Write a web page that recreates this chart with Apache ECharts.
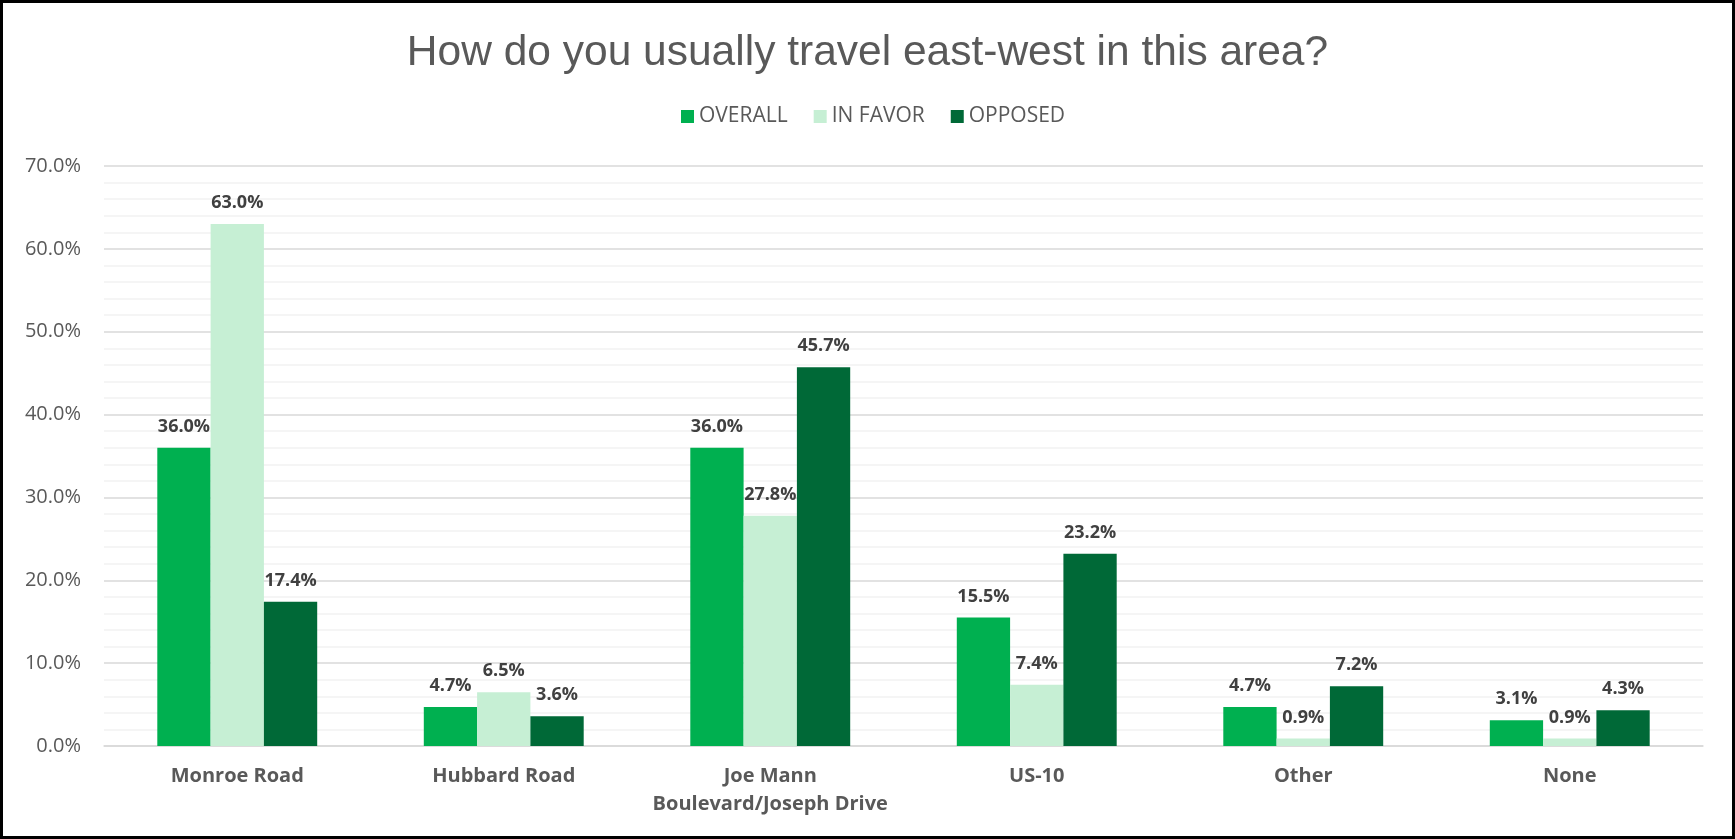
<!DOCTYPE html>
<html>
<head>
<meta charset="utf-8">
<title>How do you usually travel east-west in this area?</title>
<script src="https://cdn.jsdelivr.net/npm/echarts@6/dist/echarts.min.js"></script>
<style>
  html, body { margin: 0; padding: 0; background: #fff; }
  #wrap { position: relative; width: 1735px; height: 839px; }
  #chart { width: 1735px; height: 839px; }
  #frame {
    position: absolute; left: 0; top: 0; width: 1735px; height: 839px;
    box-sizing: border-box; border: 3px solid #000; pointer-events: none;
  }
</style>
</head>
<body>
<div id="wrap">
  <div id="chart"></div>
  <div id="frame"></div>
</div>
<script>
// categories (x axis)
const categories = ['Monroe Road', 'Hubbard Road', 'Joe Mann\nBoulevard/Joseph Drive', 'US-10', 'Other', 'None']

// series values, in percent
const overall = [36.0, 4.7, 36.0, 15.5, 4.7, 3.1]
const inFavor = [63.0, 6.5, 27.8, 7.4, 0.9, 0.9]
const opposed = [17.4, 3.6, 45.7, 23.2, 7.2, 4.3]

const seriesNames = ['OVERALL', 'IN FAVOR', 'OPPOSED']
const colors = ['#00B050', '#C6EFD4', '#006937']

const pct = (v) => v.toFixed(1) + '%'

function makeSeries(name, data, color) {
  return {
    name: name,
    type: 'bar',
    data: data,
    barGap: 0,
    barCategoryGap: '40%',
    itemStyle: { color: color },
    label: {
      show: true,
      position: 'top',
      distance: 12,
      formatter: (p) => pct(p.value),
      fontFamily: 'Open Sans',
      fontWeight: 'bold',
      fontSize: 18,
      color: '#404040',
    },
  }
}

var chart = echarts.init(document.getElementById('chart'))
// 绘制图表
chart.setOption({
  animation: false,
  color: colors,
  title: {
    text: 'How do you usually travel east-west in this area?',
    left: 'center',
    top: 27,
    textStyle: {
      fontFamily: 'Liberation Sans',
      fontWeight: 'normal',
      fontSize: 42.5,
      color: '#595959',
    },
  },
  legend: {
    data: seriesNames,
    left: 676,
    top: 101,
    itemWidth: 13,
    itemHeight: 13,
    itemGap: 26,
    icon: 'rect',
    textStyle: {
      fontFamily: 'Open Sans',
      fontSize: 21,
      color: '#595959',
    },
  },
  grid: {
    left: 104,
    right: 32,
    top: 166,
    bottom: 93,
  },
  xAxis: {
    type: 'category',
    data: categories,
    axisTick: { show: false },
    axisLine: { lineStyle: { color: '#D9D9D9', width: 1.5 } },
    axisLabel: {
      margin: 16,
      interval: 0,
      fontFamily: 'Open Sans',
      fontWeight: 'bold',
      fontSize: 20,
      lineHeight: 28,
      color: '#595959',
    },
  },
  yAxis: {
    type: 'value',
    min: 0,
    max: 70,
    interval: 10,
    axisLine: { show: false },
    axisTick: { show: false },
    axisLabel: {
      margin: 23,
      formatter: (v) => pct(v),
      fontFamily: 'Open Sans',
      fontSize: 20,
      color: '#595959',
    },
    splitLine: { lineStyle: { color: '#D9D9D9', width: 1.5 } },
    minorTick: { show: false, splitNumber: 5 },
    minorSplitLine: { show: true, lineStyle: { color: '#F2F2F2', width: 1.5 } },
  },
  series: [
    makeSeries(seriesNames[0], overall, colors[0]),
    makeSeries(seriesNames[1], inFavor, colors[1]),
    makeSeries(seriesNames[2], opposed, colors[2]),
  ],
})
</script>
</body>
</html>
